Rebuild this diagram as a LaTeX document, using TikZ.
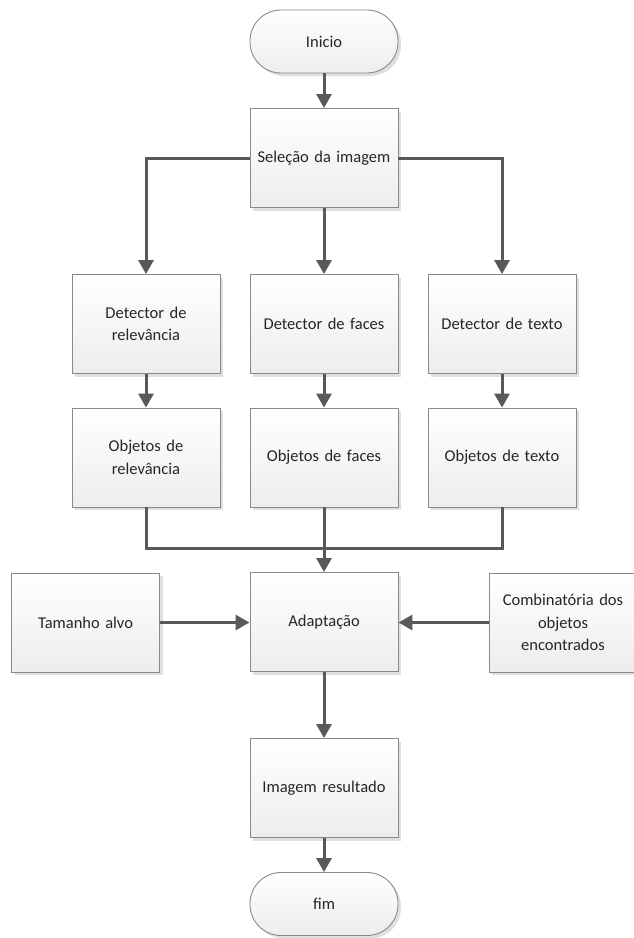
\documentclass[tikz,border=0pt]{standalone}
\usepackage{fontspec}
\setmainfont{Carlito}
\usetikzlibrary{arrows.meta,shadows,positioning}
\definecolor{boxline}{HTML}{8A8A8A}
\definecolor{arrowgray}{HTML}{595959}
\definecolor{txt}{HTML}{262626}
\definecolor{fillbot}{HTML}{EDEDED}
\tikzset{
  procbox/.style={draw=boxline, line width=0.9pt, top color=white, bottom color=fillbot,
    minimum width=148pt, minimum height=99pt, inner sep=4pt, align=center,
    text width=140pt, text=txt,
    font=\fontsize{16.5}{22.5}\selectfont,
    drop shadow={shadow xshift=3pt, shadow yshift=-3pt, fill=black!18, opacity=0.7}},
  termbox/.style={procbox, minimum height=63pt, rounded corners=31pt},
  flow/.style={draw=arrowgray, line width=3pt},
  arr/.style={flow, -{Triangle[width=15pt,length=14pt]}}
}
\begin{document}
\begin{tikzpicture}[x=1pt,y=-1pt]
\useasboundingbox (0,0) rectangle (633,938);
% start / end terminals
\node[termbox] (ini) at (324,41.5) {Inicio};
\node[procbox] (sel) at (324,158) {Seleção da imagem};
% detectors
\node[procbox] (det1) at (146,324) {Detector de\\relevância};
\node[procbox] (det2) at (324,324) {Detector de faces};
\node[procbox] (det3) at (502,324) {Detector de texto};
% detected objects
\node[procbox] (obj1) at (146,457.5) {Objetos de\\relevância};
\node[procbox] (obj2) at (324,457.5) {Objetos de faces};
\node[procbox] (obj3) at (502,457.5) {Objetos de texto};
% adaptation stage
\node[procbox] (ada) at (324,622) {Adaptação};
\node[procbox] (tam) at (85.5,622.5) {Tamanho alvo};
\node[procbox] (comb) at (563,622.5) {Combinatória dos\\objetos\\encontrados};
\node[procbox] (res) at (324,788) {Imagem resultado};
\node[termbox] (fim) at (324,904) {fim};
\coordinate (merge) at (324,548);
% connectors
\draw[arr] (ini) -- (sel);
\draw[arr] (sel.west) -| (det1.north);
\draw[arr] (sel) -- (det2);
\draw[arr] (sel.east) -| (det3.north);
\draw[arr] (det1) -- (obj1);
\draw[arr] (det2) -- (obj2);
\draw[arr] (det3) -- (obj3);
\draw[flow] (obj1.south) |- (merge);
\draw[flow] (obj3.south) |- (merge);
\draw[arr] (obj2) -- (ada);
\draw[arr] (tam.east) -- (ada.west |- tam.east);
\draw[arr] (comb.west) -- (ada.east |- comb.west);
\draw[arr] (ada) -- (res);
\draw[arr] (res) -- (fim);
\end{tikzpicture}
\end{document}
